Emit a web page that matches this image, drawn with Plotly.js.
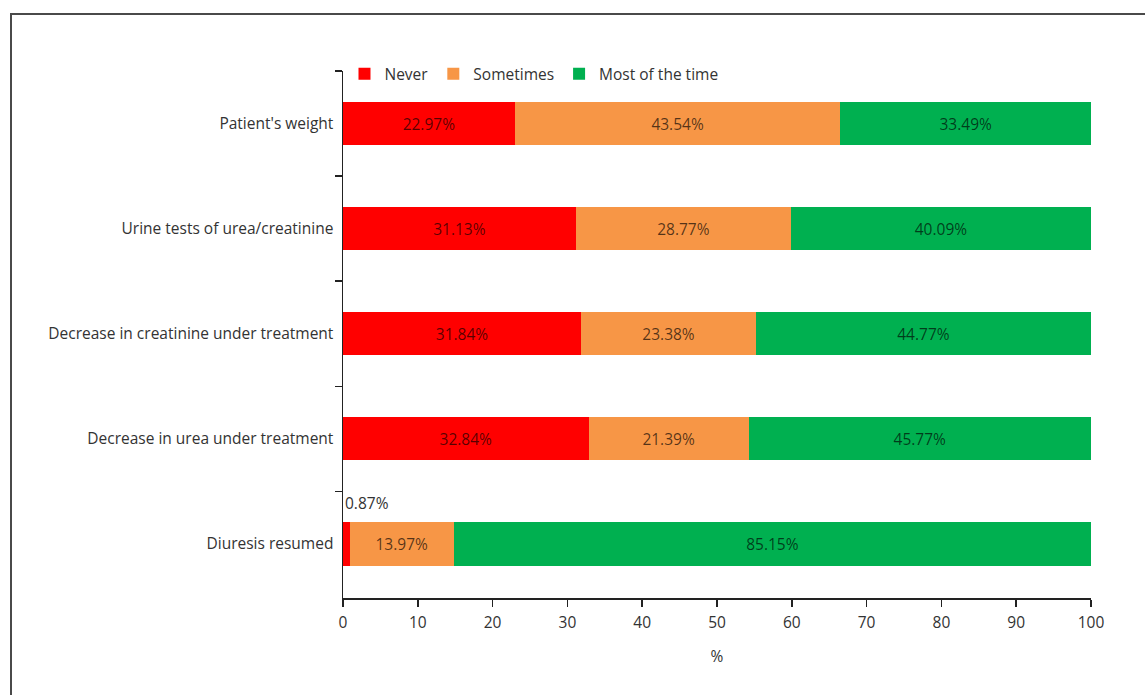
<!DOCTYPE html>
<html>
<head>
<meta charset="utf-8">
<script src="https://cdn.plot.ly/plotly-3.0.1.min.js"></script>
<style>
  html, body { margin: 0; padding: 0; background: #ffffff; }
  #wrap { position: relative; width: 1145px; height: 695px; overflow: hidden; }
  #frame { position: absolute; left: 10px; top: 13px; width: 1200px; height: 800px;
           border-top: 2px solid #4a4a4a; border-left: 2px solid #4a4a4a; pointer-events: none; }
  #chart { position: absolute; left: 0; top: 0; width: 1145px; height: 695px; }
</style>
</head>
<body>
<div id="wrap">
  <div id="chart"></div>
  <div id="frame"></div>
</div>
<script>
const categories = [
  "Patient's weight",
  "Urine tests of urea/creatinine",
  "Decrease in creatinine under treatment",
  "Decrease in urea under treatment",
  "Diuresis resumed"
];
const seriesNames = ["Never", "Sometimes", "Most of the time"];
const never = [22.97, 31.13, 31.84, 32.84, 0.87];
const sometimes = [43.54, 28.77, 23.38, 21.39, 13.97];
const mostOfTheTime = [33.49, 40.09, 44.77, 45.77, 85.15];
const xTicks = [0, 10, 20, 30, 40, 50, 60, 70, 80, 90, 100];
const colors = ["#ff0000", "#f79646", "#00b050"];

const FONT = "Open Sans, Noto Sans, sans-serif";
const FS = 15.5;
const fmt = v => v.toFixed(2) + "%";

// the small "Never" value of the last row is labelled outside (annotation)
const smallIdx = 4;
const neverText = never.map((v, i) => i === smallIdx ? "" : fmt(v));

function barTrace(name, values, color, texts) {
  return {
    type: "bar",
    orientation: "h",
    name: name,
    y: categories,
    x: values,
    text: texts || values.map(fmt),
    textposition: "inside",
    insidetextanchor: "middle",
    textangle: 0,
    constraintext: "none",
    textfont: { family: FONT, size: FS, color: "rgba(0,0,0,0.66)" },
    marker: { color: color, line: { width: 0 } },
    hoverinfo: "x+name"
  };
}

const data = [
  barTrace(seriesNames[0], never, colors[0], neverText),
  barTrace(seriesNames[1], sometimes, colors[1]),
  barTrace(seriesNames[2], mostOfTheTime, colors[2])
];

const layout = {
  width: 1145,
  height: 695,
  barmode: "stack",
  bargap: 0.59,
  paper_bgcolor: "rgba(0,0,0,0)",
  plot_bgcolor: "#ffffff",
  margin: { l: 343, r: 54, t: 71, b: 97, pad: 0 },
  font: { family: FONT, size: FS, color: "#333333" },
  showlegend: true,
  legend: {
    orientation: "h",
    x: 0.002, xanchor: "left",
    y: 0.994, yanchor: "middle",
    font: { family: FONT, size: FS, color: "#333333" },
    bgcolor: "rgba(255,255,255,0)",
    traceorder: "normal",
    itemclick: false
  },
  xaxis: {
    range: [0, 100],
    tickvals: xTicks,
    ticktext: xTicks.map(String),
    showgrid: false,
    zeroline: false,
    showline: true,
    linecolor: "#222222",
    linewidth: 1.5,
    ticks: "outside",
    ticklen: 7,
    tickwidth: 1.5,
    tickcolor: "#222222",
    ticklabelstandoff: 3,
    tickfont: { family: FONT, size: FS, color: "#333333" },
    title: { text: "%", font: { family: FONT, size: FS, color: "#333333" }, standoff: 19 },
    fixedrange: true
  },
  yaxis: {
    type: "category",
    categoryorder: "array",
    categoryarray: categories,
    autorange: "reversed",
    showgrid: false,
    zeroline: false,
    showline: true,
    linecolor: "#222222",
    linewidth: 1.5,
    ticks: "outside",
    tickson: "boundaries",
    ticklen: 7,
    tickwidth: 1.5,
    tickcolor: "#222222",
    ticklabelstandoff: 5,
    tickfont: { family: FONT, size: FS, color: "#333333" },
    fixedrange: true
  },
  annotations: [{
    x: 0,
    y: categories[smallIdx],
    xref: "x",
    yref: "y",
    text: fmt(never[smallIdx]),
    showarrow: false,
    xanchor: "left",
    yanchor: "middle",
    yshift: 41,
    font: { family: FONT, size: FS, color: "#333333" }
  }]
};

Plotly.newPlot("chart", data, layout, { displayModeBar: false, staticPlot: true });
</script>
</body>
</html>
